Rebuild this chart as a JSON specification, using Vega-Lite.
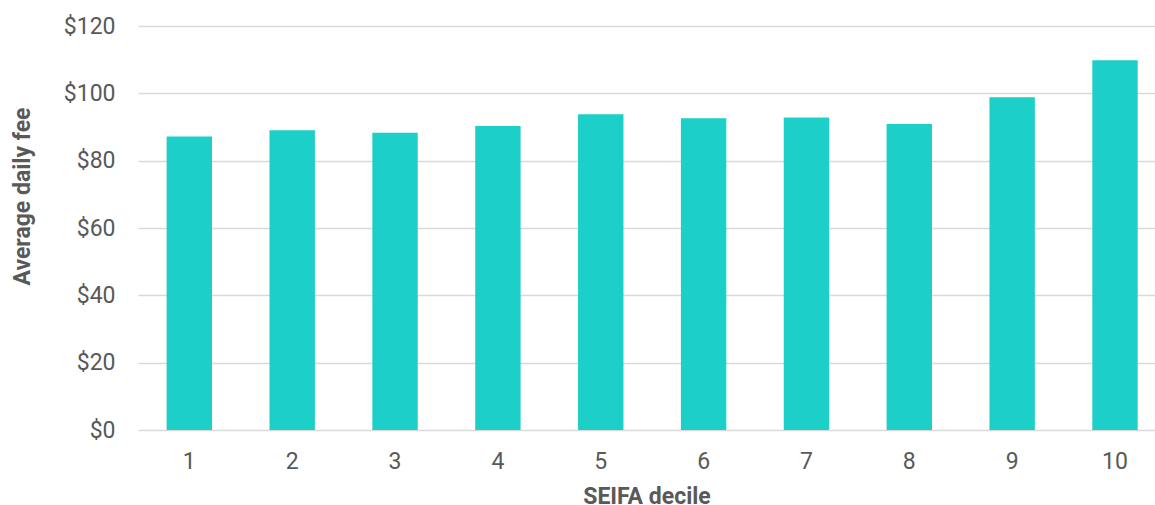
{
  "$schema": "https://vega.github.io/schema/vega-lite/v6.json",
  "autosize": {"type": "none"},
  "padding": {"left": 138, "top": 26, "right": 0, "bottom": 75},
  "width": 1017,
  "height": 404,
  "background": "white",
  "config": {
    "view": {"stroke": null},
    "font": "Roboto",
    "axis": {"labelFont": "Roboto", "titleFont": "Roboto", "labelColor": "#595959", "titleColor": "#595959", "labelFontSize": 23, "titleFontSize": 23, "titleFontWeight": "bold", "gridColor": "#d9d9d9", "gridWidth": 1.5, "domain": false, "ticks": false}
  },
  "data": {
    "values": [
      {"decile": "1", "fee": 87.2},
      {"decile": "2", "fee": 89.0},
      {"decile": "3", "fee": 88.3},
      {"decile": "4", "fee": 90.3},
      {"decile": "5", "fee": 93.8},
      {"decile": "6", "fee": 92.6},
      {"decile": "7", "fee": 92.8},
      {"decile": "8", "fee": 90.9},
      {"decile": "9", "fee": 98.8},
      {"decile": "10", "fee": 109.8}
    ]
  },
  "layer": [
    {
      "mark": {"type": "bar", "color": "#1dcfc9"},
      "encoding": {
        "x": {
          "field": "decile", "type": "ordinal", "sort": null,
          "scale": {"paddingInner": 0.5586, "paddingOuter": 0.2233, "align": 0.6235},
          "axis": {"labelAngle": 0, "labelPadding": 20, "title": "SEIFA decile", "titleY": 73, "titleBaseline": "alphabetic", "grid": false}
        },
        "y": {
          "field": "fee", "type": "quantitative",
          "scale": {"domain": [0, 120], "nice": false},
          "axis": {"values": [0, 20, 40, 60, 80, 100, 120], "format": "$,.0f", "labelPadding": 23, "title": "Average daily fee", "titleX": -116, "titleY": 170, "titleAngle": -90, "titleAlign": "center", "titleBaseline": "middle", "grid": true}
        }
      }
    }
  ]
}
